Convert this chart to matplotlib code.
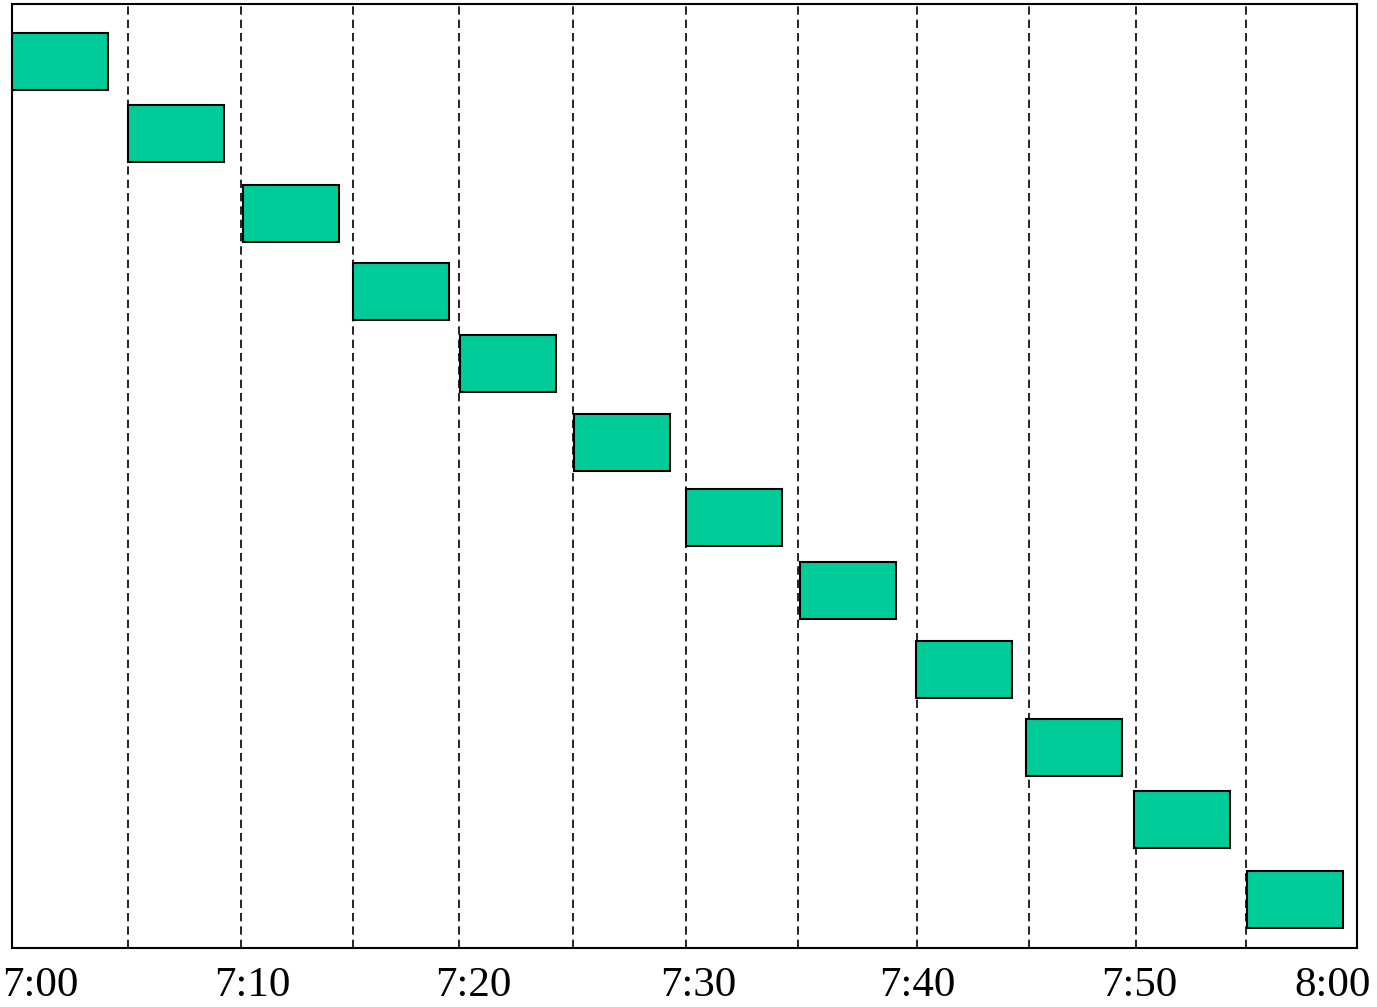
import matplotlib
matplotlib.use("Agg")
import matplotlib.pyplot as plt

# start minute after 7:00 of each block
starts = [0, 5.17, 10.30, 15.21, 19.98, 25.07, 30.06, 35.15, 40.32, 45.23, 50.04, 55.08]
durations = [4.3, 4.3, 4.3, 4.3, 4.3, 4.3, 4.3, 4.3, 4.3, 4.3, 4.3, 4.3]
# row centres (pixels from top of plot area) and row height
rows = [57.5, 129.5, 209.5, 287, 359, 438.5, 513.5, 586, 665.5, 743, 815.5, 895]
row_height = 57
# dashed guide lines (minutes)
guides = [5.17, 10.21, 15.21, 19.93, 25.02, 30.06, 35.06, 40.37, 45.36, 50.13, 55.04]
tick_labels = ["7:00", "7:10", "7:20", "7:30", "7:40", "7:50", "8:00"]
tick_pos = [1.25, 10.7, 20.6, 30.6, 40.4, 50.3, 58.9]

fig = plt.figure(figsize=(13.77, 10.07), dpi=100)
ax = fig.add_axes([12/1377, 59/1007, 1345/1377, 944/1007])

for g in guides:
    ax.axvline(g, color="black", lw=1.2, linestyle=(0, (5, 3)), zorder=1)

ax.barh(rows, durations, left=starts, height=row_height, color="#00CC99",
        edgecolor="black", linewidth=1.5, zorder=2)

ax.set_xlim(0, 60)
ax.set_ylim(944, 0)
ax.set_yticks([])
ax.set_xticks(tick_pos)
ax.set_xticklabels(tick_labels, fontfamily="Liberation Serif", fontsize=31)
ax.tick_params(axis="x", length=0, pad=13)
for s in ax.spines.values():
    s.set_linewidth(1.5)

fig.savefig("out.png", dpi=100)
